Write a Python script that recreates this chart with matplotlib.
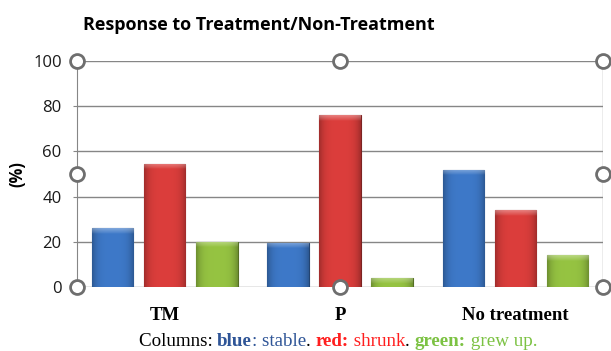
import matplotlib
matplotlib.use('Agg')
import matplotlib.pyplot as plt
import numpy as np

categories = ['TM', 'P', 'No treatment']
stable = [26, 19.5, 52]
shrunk = [54.5, 76, 34]
grew = [20, 4, 14]
series = [stable, shrunk, grew]
colors = ['#3a72bd', '#cf3a38', '#8db83e']
yticks = [0, 20, 40, 60, 80, 100]

fig = plt.figure(figsize=(6.11, 3.51), dpi=100)
ax = fig.add_axes([0.126, 0.182, 0.861, 0.644])

x = np.arange(len(categories))
width = 0.237
step = 0.297


def shade_bar(bar, color):
    # bevel look: darker edges, lighter middle, soft light strip at the top
    base = np.array(matplotlib.colors.to_rgb(color))
    h = bar.get_height()
    rows = max(int(h * 10), 2)
    cols = 60
    u = np.linspace(-1, 1, cols)
    horiz = 1.06 - 0.28 * np.abs(u) ** 4
    img = np.ones((rows, cols, 3)) * base * horiz[None, :, None]
    band = min(24, rows)
    w = np.linspace(0.05, 0.35, band)[:, None, None]
    img[-band:] = img[-band:] * (1 - w) + w
    img = np.clip(img, 0, 1)
    b = bar.get_x()
    im = ax.imshow(img, extent=(b, b + bar.get_width(), 0, h), origin='lower',
                   aspect='auto', zorder=3, interpolation='bilinear')
    im.set_clip_path(bar)


for i, (vals, c) in enumerate(zip(series, colors)):
    dark = tuple(np.array(matplotlib.colors.to_rgb(c)) * 0.6)
    bars = ax.bar(x + (i - 1) * step, vals, width, color=c, zorder=3,
                  edgecolor=dark, linewidth=0.8)
    for bar in bars:
        shade_bar(bar, c)

ax.set_xlim(-0.5, 2.5)
ax.set_ylim(0, 100)
ax.set_yticks(yticks)
ax.set_xticks(x)
ax.set_xticklabels(categories, fontfamily='Liberation Serif', fontweight='bold', fontsize=13.5)
ax.tick_params(axis='x', length=0, pad=14)
ax.tick_params(axis='y', length=3, color='#868686', labelsize=12, pad=8)
for t in ax.get_yticklabels():
    t.set_fontfamily('Open Sans')
    t.set_color('#1a1a1a')
ax.grid(axis='y', color='#868686', linewidth=1.0, zorder=0)
for s in ['top', 'bottom', 'right']:
    ax.spines[s].set_visible(False)
ax.spines['left'].set_color('#868686')
ax.spines['left'].set_zorder(1)
ax.set_ylabel('(%)', fontfamily='Open Sans', fontweight='bold', fontsize=12, labelpad=5)
ax.axvline(2.5, color='#a0a0a0', linewidth=1.0, zorder=1)

# selection handles
handles = [(0, 1), (0.5, 1), (1, 1), (0, 0.5), (1, 0.5), (0, 0), (0.5, 0), (1, 0)]
for hx, hy in handles:
    ax.plot(hx, hy, 'o', transform=ax.transAxes, markersize=10, markerfacecolor='white',
            markeredgecolor='#6e6e6e', markeredgewidth=2, clip_on=False, zorder=6)

fig.text(0.424, 0.93, 'Response to Treatment/Non-Treatment', ha='center', va='center',
         fontfamily='Open Sans', fontweight='bold', fontsize=13)

# caption with coloured parts
parts = [('Columns: ', 'black', 'normal'), ('blue', '#2f5597', 'bold'),
         (': stable', '#2f5597', 'normal'), ('. ', 'black', 'normal'),
         ('red:', '#ff1f1f', 'bold'), (' shrunk', '#ff1f1f', 'normal'),
         ('. ', 'black', 'normal'), ('green:', '#7cc243', 'bold'),
         (' grew up.', '#7cc243', 'normal')]
prev = fig.text(0.227, 0.003, parts[0][0], color=parts[0][1], fontweight=parts[0][2],
                fontfamily='Liberation Serif', fontsize=13.7, va='bottom')
for txt, col, wt in parts[1:]:
    prev = ax.annotate(txt, xy=(1, 0), xycoords=prev, va='bottom', ha='left',
                       color=col, fontweight=wt, fontfamily='Liberation Serif',
                       fontsize=13.7, annotation_clip=False)

fig.savefig('out.png', dpi=100)
